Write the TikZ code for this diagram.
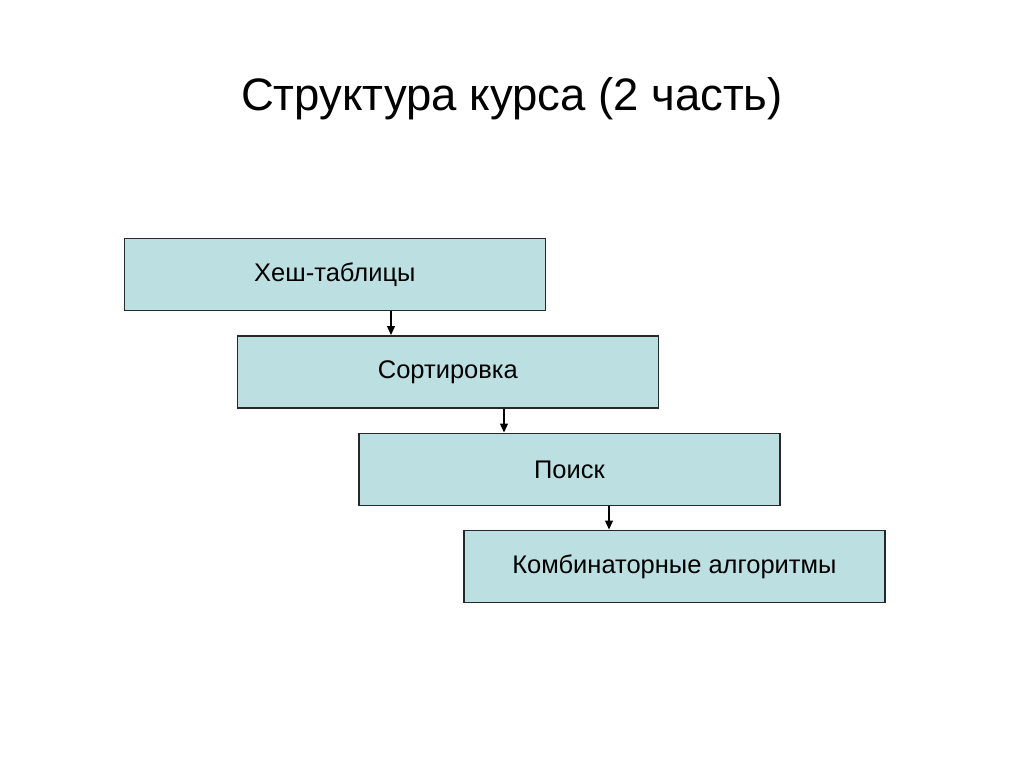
\documentclass[tikz,border=0pt]{standalone}
\usepackage{fontspec}
\setmainfont{Liberation Sans}
\usetikzlibrary{arrows.meta}
\definecolor{boxfill}{RGB}{188,224,226}
\definecolor{boxline}{RGB}{40,40,40}
\begin{document}
\begin{tikzpicture}[x=1pt,y=-1pt,
  stepbox/.style={draw=boxline,line width=1.7pt,fill=boxfill,minimum width=421pt,minimum height=72pt,inner sep=0pt,font=\fontsize{25.5}{30}\selectfont,anchor=north west},
  link/.style={draw=black,line width=1.3pt,-{Triangle[length=9pt,width=8pt]}}]
\useasboundingbox[fill=white] (0,0) rectangle (1024,767);
\node[font=\fontsize{45.5}{54}\selectfont] (title) at (512,99) {Структура курса (2 часть)};
\node[stepbox] (b1) at (123.5,237.5) {Хеш-таблицы};
\node[stepbox] (b2) at (236.5,335) {Сортировка};
\node[stepbox] (b3) at (358,432.5) {Поиск};
\node[stepbox] (b4) at (463,529.5) {Комбинаторные алгоритмы};
\draw[link] (b1.south -| 391,0) -- (b2.north -| 391,0);
\draw[link] (b2.south -| 504,0) -- (b3.north -| 504,0);
\draw[link] (b3.south -| 609,0) -- (b4.north -| 609,0);
\end{tikzpicture}
\end{document}
